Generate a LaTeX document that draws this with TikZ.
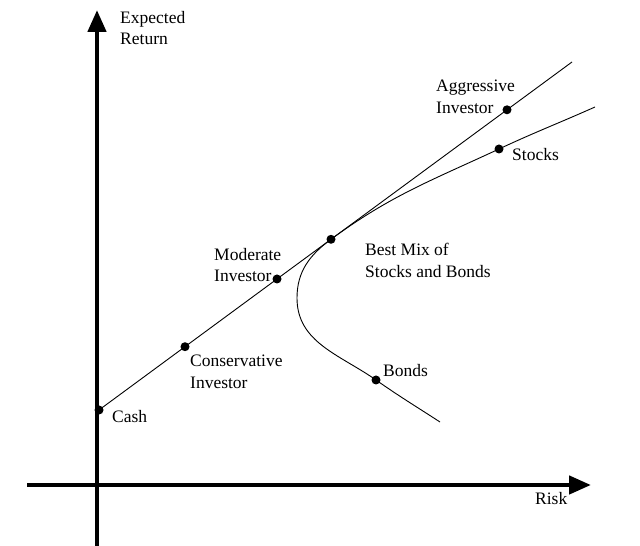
\documentclass[tikz,border=0pt]{standalone}
\usepackage{fontspec}
\setmainfont{Liberation Serif}
\usetikzlibrary{arrows.meta}
\tikzset{
	axis/.style={line width=4.5pt, -{Triangle[length=22pt,width=18pt]}},
	curve/.style={line width=0.9pt},
	lbl/.style={anchor=north west, inner sep=0pt, align=left, font=\fontsize{17.5}{21.6}\selectfont},
}
\begin{document}
\begin{tikzpicture}[x=1pt, y=1pt]
			\useasboundingbox (0,0) rectangle (640,546);
			\coordinate (Ybot) at (97,0);
			\coordinate (Ytop) at (97,536);
			\coordinate (Xleft) at (27,61);
			\coordinate (Xright) at (591,61);
			\draw[axis] (Ybot) -- (Ytop);
			\draw[axis] (Xleft) -- (Xright);
			\coordinate (Cash) at (99,136);
			\coordinate (Cons) at (185,199.3);
			\coordinate (Mod) at (277,267);
			\coordinate (Best) at (331,306.7);
			\coordinate (Aggr) at (507,436.2);
			\coordinate (LineEnd) at (572,484);
			\draw[curve] (Cash) -- (Cons) -- (Mod) -- (Best) -- (Aggr) -- (LineEnd);
			\coordinate (StocksEnd) at (595,439);
			\coordinate (Stocks) at (499,397);
			\coordinate (Tip) at (297,248);
			\coordinate (Bonds) at (376,166);
			\coordinate (BondsEnd) at (440,124);
			\draw[curve] (StocksEnd) to[out=204,in=25] (Stocks)
			to[out=205,in=36.3] (Best)
			to[out=216.3,in=90] (Tip)
			to[out=-90,in=145] (Bonds)
			to[out=-35,in=147] (BondsEnd);
			\foreach \p in {Cash,Cons,Mod,Best,Aggr,Stocks,Bonds}
			\fill (\p) circle (4.5pt);
			\node[lbl] (ylabel) at (120,535) {Expected\\Return};
			\node[lbl] (xlabel) at (535,54) {Risk};
			\node[lbl] (cashlbl) at (112,136) {Cash};
			\node[lbl] (conslbl) at (190,191) {Conservative\\Investor};
			\node[lbl] (modlbl) at (214,298) {Moderate\\Investor};
			\node[lbl] (bestlbl) at (365,303) {Best Mix of\\Stocks and Bonds};
			\node[lbl] (aggrlbl) at (436,466) {Aggressive\\Investor};
			\node[lbl] (stockslbl) at (512,398) {Stocks};
			\node[lbl] (bondslbl) at (383,182) {Bonds};
			\end{tikzpicture}
\end{document}
